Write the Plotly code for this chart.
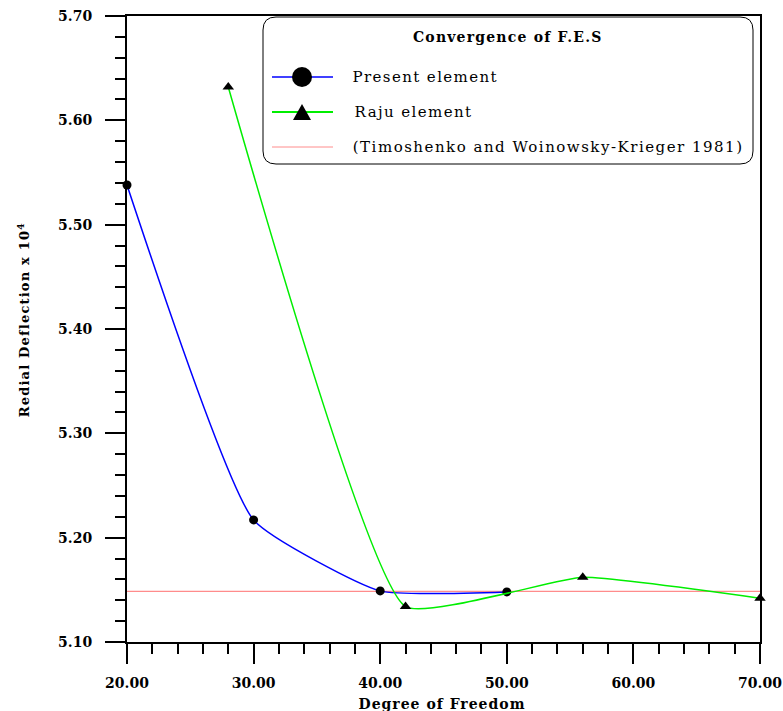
import plotly.graph_objects as go

# ---- data ----
present_dof = [20, 30, 40, 50]
present_defl = [5.538, 5.217, 5.149, 5.148]
raju_dof = [28, 42, 56, 70]
raju_defl = [5.632, 5.134, 5.162, 5.142]
exact_dof = [20, 70]
exact_defl = [5.1485, 5.1485]

x_ticks = [20, 30, 40, 50, 60, 70]
y_ticks = [5.10, 5.20, 5.30, 5.40, 5.50, 5.60, 5.70]

W, H = 783, 711
L, R, T, B = 127, 760, 16, 642
pw, ph = R - L, B - T


def px(xp):
    return (xp - L) / pw


def py(yp):
    return (B - yp) / ph


SERIF = "DejaVu Serif"

fig = go.Figure()
fig.add_trace(go.Scatter(x=exact_dof, y=exact_defl, mode="lines",
                         line=dict(color="#ff8c8c", width=1.2),
                         showlegend=False, cliponaxis=False))
fig.add_trace(go.Scatter(x=present_dof, y=present_defl, mode="lines+markers",
                         line=dict(color="#0000ff", width=1.5, shape="spline", smoothing=0.45),
                         marker=dict(color="black", size=9, symbol="circle"),
                         showlegend=False, cliponaxis=False))
fig.add_trace(go.Scatter(x=raju_dof, y=raju_defl, mode="lines+markers",
                         line=dict(color="#00ee00", width=1.5, shape="spline", smoothing=0.4),
                         marker=dict(color="black", size=10, symbol="triangle-up"),
                         showlegend=False, cliponaxis=False))

axis_common = dict(showgrid=False, zeroline=False, showline=True, linecolor="black",
                   linewidth=2, mirror=True, ticks="outside", ticklen=20, tickwidth=2,
                   tickcolor="black", automargin=False,
                   tickfont=dict(family=SERIF, size=14, color="black", weight="bold"))

fig.update_xaxes(range=[20, 70], tickvals=x_ticks, tickformat=".2f",
                 minor=dict(dtick=2, ticklen=10, tickwidth=2, tickcolor="black", ticks="outside"),
                 ticklabelstandoff=7, **axis_common)
fig.update_yaxes(range=[5.10, 5.70], tickvals=y_ticks, tickformat=".2f",
                 minor=dict(dtick=0.02, ticklen=10, tickwidth=2, tickcolor="black", ticks="outside"),
                 ticklabelstandoff=10, **axis_common)

shapes = []
# rounded legend box
x0, x1, y0, y1 = 263, 753, 17, 164
r = 13
rx, ry = r / pw, r / ph
X0, X1, Y0, Y1 = px(x0), px(x1), py(y1), py(y0)
path = (f"M {X0+rx},{Y1} L {X1-rx},{Y1} Q {X1},{Y1} {X1},{Y1-ry} "
        f"L {X1},{Y0+ry} Q {X1},{Y0} {X1-rx},{Y0} L {X0+rx},{Y0} "
        f"Q {X0},{Y0} {X0},{Y0+ry} L {X0},{Y1-ry} Q {X0},{Y1} {X0+rx},{Y1} Z")
shapes.append(dict(type="path", xref="paper", yref="paper", path=path,
                   line=dict(color="black", width=1), fillcolor="white", layer="above"))
# legend samples
for yy, col, w in [(77, "#0000ff", 1.5), (112, "#00ee00", 2), (147, "#ff8c8c", 1)]:
    shapes.append(dict(type="line", xref="paper", yref="paper",
                       x0=px(272), x1=px(333), y0=py(yy), y1=py(yy),
                       line=dict(color=col, width=w), layer="above"))
shapes.append(dict(type="circle", xref="paper", yref="paper",
                   x0=px(292), x1=px(312), y0=py(87), y1=py(67),
                   fillcolor="black", line=dict(color="black", width=0), layer="above"))
tri = f"M {px(293)},{py(120)} L {px(311)},{py(120)} L {px(302)},{py(104)} Z"
shapes.append(dict(type="path", xref="paper", yref="paper", path=tri,
                   fillcolor="black", line=dict(color="black", width=0), layer="above"))

annotations = [
    dict(text="<b>Convergence of F.E.S</b>", x=px(508), y=py(37), xref="paper", yref="paper",
         showarrow=False, xanchor="center", yanchor="middle",
         font=dict(family=SERIF, size=14, color="black")),
]
for yy, xc, label in [(77, 425, "Present element"), (112, 413, "Raju element"),
                      (147, 548, "(Timoshenko and Woinowsky-Krieger 1981)")]:
    annotations.append(dict(text=label, x=px(xc), y=py(yy), xref="paper", yref="paper",
                            showarrow=False, xanchor="center", yanchor="middle",
                            font=dict(family=SERIF, size=15, color="black")))
annotations.append(dict(text="<b>Degree of Freedom</b>", x=px(442), y=py(704),
                        xref="paper", yref="paper", showarrow=False,
                        xanchor="center", yanchor="middle",
                        font=dict(family=SERIF, size=14, color="black")))
annotations.append(dict(text="<b>Redial Deflection x 10<sup>4</sup></b>", x=px(23), y=py(320),
                        xref="paper", yref="paper", showarrow=False, textangle=-90,
                        xanchor="center", yanchor="middle",
                        font=dict(family=SERIF, size=13, color="black")))

fig.update_layout(width=W, height=H, margin=dict(l=L, r=W - R, t=T, b=H - B, pad=0),
                  paper_bgcolor="white", plot_bgcolor="white",
                  shapes=shapes, annotations=annotations, showlegend=False)

post = """
document.body.style.margin='0';
document.body.style.overflow='hidden';
var sp = {'Convergence':'1.2px','Present':'1.4px','Raju':'1.4px','(Timoshenko':'1.5px',
          'Degree':'1px','Redial':'1.2px'};
document.querySelectorAll('.annotation-text').forEach(function(t){
  var s = t.textContent;
  for (var k in sp) { if (s.indexOf(k) === 0) { t.style.letterSpacing = sp[k]; } }
});
"""
fig.write_html("out.html", config={"displayModeBar": False}, post_script=post)
